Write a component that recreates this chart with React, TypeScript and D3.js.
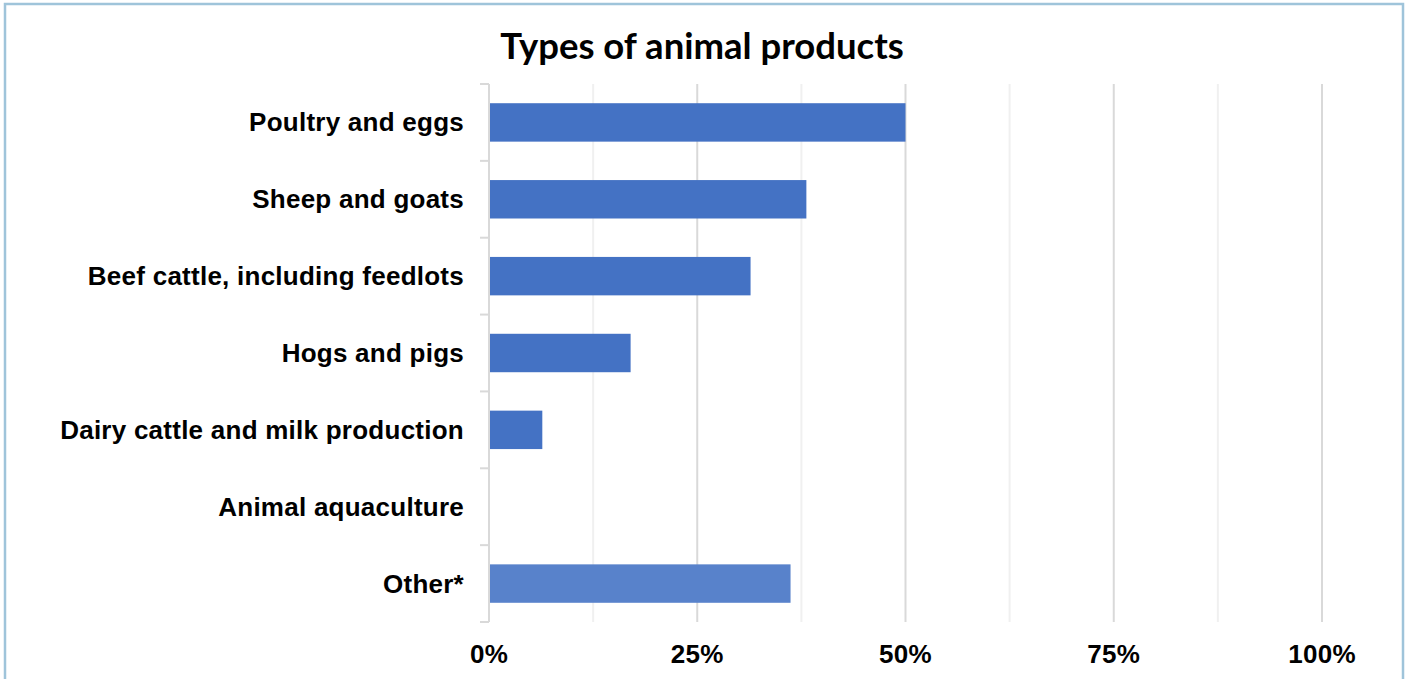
import React, { useRef, useEffect } from 'react';
import * as d3 from 'd3';

const categories = [
  'Poultry and eggs',
  'Sheep and goats',
  'Beef cattle, including feedlots',
  'Hogs and pigs',
  'Dairy cattle and milk production',
  'Animal aquaculture',
  'Other*',
];
const shares = [0.5, 0.381, 0.314, 0.17, 0.064, 0, 0.362];
const barColors = ['#4472c4', '#4472c4', '#4472c4', '#4472c4', '#4472c4', '#4472c4', '#5882cb'];
const majorTicks = [0, 0.25, 0.5, 0.75, 1];
const minorTicks = [0.125, 0.375, 0.625, 0.875];

const W = 1411;
const H = 679;

const App: React.FC = () => {
  const ref = useRef<SVGSVGElement | null>(null);

  useEffect(() => {
    document.body.style.margin = '0';
    if (!ref.current) return;
    const svg = d3.select(ref.current);
    svg.selectAll('*').remove();

    const left = 489;
    const right = 1322;
    const top = 84;
    const bottom = 622;

    const x = d3.scaleLinear().domain([0, 1]).range([left, right]);
    const y = d3.scaleBand<string>().domain(categories).range([top, bottom])
      .paddingInner(0.5).paddingOuter(0.25);
    const yCells = d3.scaleBand<string>().domain(categories).range([top, bottom]);

    svg.append('rect')
      .attr('width', W).attr('height', H).attr('fill', '#fff');

    // outer frame (bottom runs off the picture)
    svg.append('rect')
      .attr('x', 5).attr('y', 4)
      .attr('width', 1398).attr('height', 720)
      .attr('fill', 'none')
      .attr('stroke', '#9fc4da')
      .attr('stroke-width', 2.5);

    svg.append('text')
      .attr('x', 702).attr('y', 59)
      .attr('text-anchor', 'middle')
      .attr('font-family', 'Lato, sans-serif')
      .attr('font-weight', 700)
      .attr('font-size', 36.5)
      .attr('fill', '#000')
      .text('Types of animal products');

    // gridlines
    const grid = svg.append('g');
    grid.selectAll('.minor')
      .data(minorTicks)
      .enter().append('line')
      .attr('x1', d => x(d)).attr('x2', d => x(d))
      .attr('y1', top).attr('y2', bottom)
      .attr('stroke', '#f0f0f0').attr('stroke-width', 2);
    grid.selectAll('.major')
      .data(majorTicks.slice(1))
      .enter().append('line')
      .attr('x1', d => x(d)).attr('x2', d => x(d))
      .attr('y1', top).attr('y2', bottom)
      .attr('stroke', '#d9d9d9').attr('stroke-width', 2);

    // bars
    svg.append('g').selectAll('rect')
      .data(categories)
      .enter().append('rect')
      .attr('x', x(0))
      .attr('y', d => y(d)!)
      .attr('width', (_, i) => x(shares[i]) - x(0))
      .attr('height', y.bandwidth())
      .attr('fill', (_, i) => barColors[i]);

    // category axis
    const axis = svg.append('g');
    axis.append('line')
      .attr('x1', left).attr('x2', left)
      .attr('y1', top).attr('y2', bottom)
      .attr('stroke', '#d9d9d9').attr('stroke-width', 2);
    const bounds = categories.map(c => yCells(c)!).concat([bottom]);
    axis.selectAll('.tick')
      .data(bounds)
      .enter().append('line')
      .attr('x1', left - 9).attr('x2', left)
      .attr('y1', d => d).attr('y2', d => d)
      .attr('stroke', '#d9d9d9').attr('stroke-width', 2);

    axis.selectAll('.label')
      .data(categories)
      .enter().append('text')
      .attr('x', left - 25)
      .attr('y', d => yCells(d)! + yCells.bandwidth() / 2 + 9)
      .attr('text-anchor', 'end')
      .attr('font-family', '"Liberation Sans", Arial, sans-serif')
      .attr('font-weight', 700)
      .attr('font-size', 26)
      .attr('letter-spacing', 0.25)
      .attr('fill', '#000')
      .text(d => d);

    // value axis labels
    svg.append('g').selectAll('text')
      .data(majorTicks)
      .enter().append('text')
      .attr('x', d => x(d))
      .attr('y', 663)
      .attr('text-anchor', 'middle')
      .attr('font-family', '"Liberation Sans", Arial, sans-serif')
      .attr('font-weight', 700)
      .attr('font-size', 26)
      .attr('letter-spacing', 0.3)
      .attr('fill', '#000')
      .text(d => d3.format('.0%')(d));
  }, []);

  return <svg ref={ref} width={W} height={H} style={{ display: 'block' }} />;
};

export default App;
